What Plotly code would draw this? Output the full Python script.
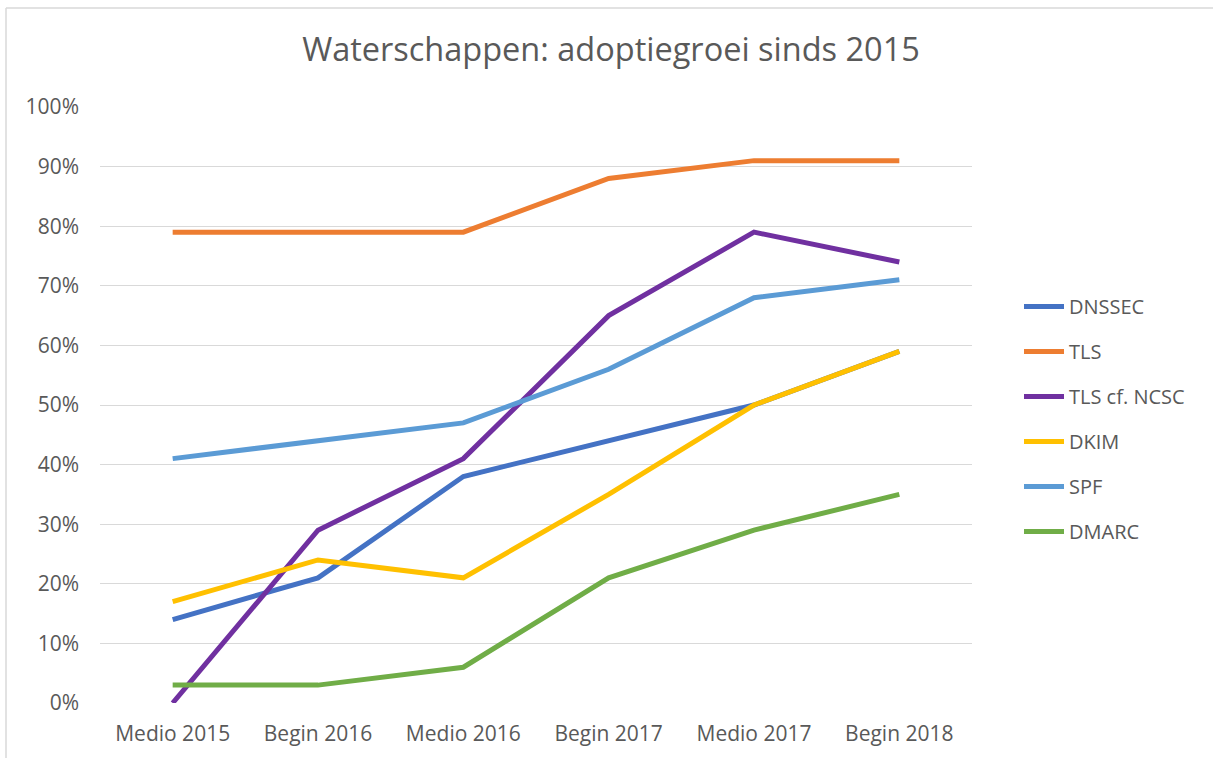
import plotly.graph_objects as go

categories = ["Medio 2015", "Begin 2016", "Medio 2016", "Begin 2017", "Medio 2017", "Begin 2018"]
dnssec = [0.14, 0.21, 0.38, 0.44, 0.50, 0.59]
tls = [0.79, 0.79, 0.79, 0.88, 0.91, 0.91]
tls_ncsc = [0.00, 0.29, 0.41, 0.65, 0.79, 0.74]
dkim = [0.17, 0.24, 0.21, 0.35, 0.50, 0.59]
spf = [0.41, 0.44, 0.47, 0.56, 0.68, 0.71]
dmarc = [0.03, 0.03, 0.06, 0.21, 0.29, 0.35]
y_ticks = [i / 10 for i in range(11)]
y_tick_labels = [f"{i * 10}%" for i in range(11)]

series = [
    ("DNSSEC", dnssec, "#4472C4"),
    ("TLS", tls, "#ED7D31"),
    ("TLS cf. NCSC", tls_ncsc, "#7030A0"),
    ("DKIM", dkim, "#FFC000"),
    ("SPF", spf, "#5B9BD5"),
    ("DMARC", dmarc, "#70AD47"),
]

W, H = 1213, 758
L, R, T, B = 100, 972, 107, 703

fig = go.Figure()
for name, vals, color in series:
    fig.add_trace(go.Scatter(
        x=categories, y=vals, name=name, mode="lines",
        line=dict(color=color, width=5),
        legendgroup=name,
    ))

font_family = "Open Sans, Liberation Sans, sans-serif"
fig.update_layout(
    width=W, height=H,
    margin=dict(l=L, r=W - R, t=T, b=H - B, autoexpand=False),
    paper_bgcolor="white", plot_bgcolor="white",
    title=dict(text="Waterschappen: adoptiegroei sinds 2015",
               x=611 / W, xanchor="center", y=1 - 50 / H, yanchor="middle",
               font=dict(family=font_family, size=32.5, color="#595959")),
    font=dict(family=font_family, size=20, color="#595959"),
    xaxis=dict(range=[-0.5, 5.5], showgrid=False, showline=False, zeroline=False,
               ticks="", ticklabelstandoff=16,
               tickfont=dict(size=21, color="#595959")),
    yaxis=dict(range=[0, 1], tickvals=y_ticks, ticktext=y_tick_labels,
               showgrid=True, gridcolor="#D9D9D9", gridwidth=1.3,
               zeroline=False, showline=False, ticks="", ticklabelstandoff=20,
               tickfont=dict(size=21, color="#595959")),
    legend=dict(x=(1019 - L) / (R - L), xanchor="left", y=(B - 287) / (B - T), yanchor="top",
                font=dict(size=20, color="#595959"), tracegroupgap=16,
                itemwidth=40, bgcolor="rgba(0,0,0,0)"),
    showlegend=True,
)

# chart border (top and left edges)
fig.add_shape(type="line", xref="paper", yref="paper",
              x0=(6 - L) / (R - L), x1=(W - L) / (R - L),
              y0=(B - 8) / (B - T), y1=(B - 8) / (B - T),
              line=dict(color="#D9D9D9", width=1.5))
fig.add_shape(type="line", xref="paper", yref="paper",
              x0=(6 - L) / (R - L), x1=(6 - L) / (R - L),
              y0=(B - 8) / (B - T), y1=(B - H) / (B - T),
              line=dict(color="#D9D9D9", width=1.5))

fig.write_html("out.html", config={"displayModeBar": False},
               post_script="document.body.style.margin='0';document.body.style.padding='0';")
